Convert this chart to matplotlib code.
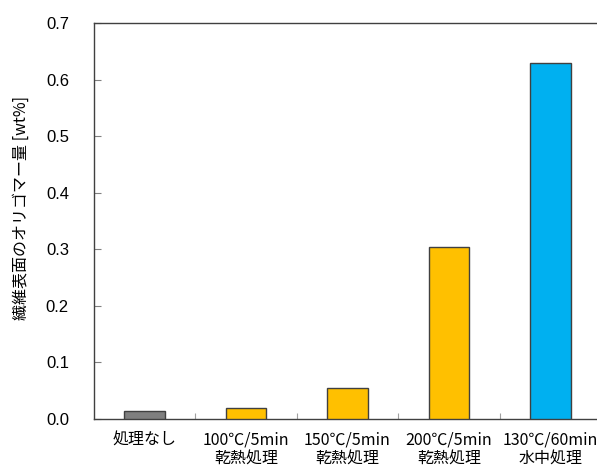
import matplotlib
matplotlib.use("Agg")
from matplotlib import pyplot as plt

# Data
categories = ["処理なし", "100℃/5min\n乾熱処理", "150℃/5min\n乾熱処理",
              "200℃/5min\n乾熱処理", "130℃/60min\n水中処理"]
values = [0.014, 0.019, 0.054, 0.304, 0.629]
colors = ["#7f7f7f", "#ffc000", "#ffc000", "#ffc000", "#00b0f0"]
yticks = [0.0, 0.1, 0.2, 0.3, 0.4, 0.5, 0.6, 0.7]

plt.rcParams["font.family"] = ["Liberation Sans", "Noto Sans CJK JP", "DejaVu Sans"]

fig = plt.figure(figsize=(5.97, 4.71), dpi=100)
# axes right edge runs slightly past the image border, as in the reference
ax = fig.add_axes([94 / 597, 52 / 471, 507 / 597, 396 / 471])

x = range(len(categories))
ax.bar(x, values, width=0.4, color=colors, edgecolor="#404040", linewidth=1.0, zorder=3)

ax.set_xlim(-0.5, len(categories) - 0.5)
ax.set_ylim(0, 0.7)
ax.set_yticks(yticks)
ax.set_yticklabels([f"{v:.1f}" for v in yticks], fontsize=12)
ax.tick_params(axis="y", direction="in", length=5, pad=18, color="#808080")

# category boundary ticks on the x axis
ax.set_xticks([i + 0.5 for i in range(len(categories) - 1)])
ax.set_xticklabels([])
ax.tick_params(axis="x", direction="in", length=4, color="#a0a0a0")
for i, lab in enumerate(categories):
    ax.text(i, -0.022, lab, ha="center", va="top", fontsize=11.5,
            family=["Noto Sans CJK JP"], linespacing=1.2,
            transform=ax.transData)

for s in ["left", "bottom", "top", "right"]:
    ax.spines[s].set_color("#404040")
    ax.spines[s].set_linewidth(1.0)

fig.text(21 / 597, 1 - 208 / 471, "繊維表面のオリゴマー量 [wt%]", rotation=90,
         ha="center", va="center", fontsize=11.5, family=["Noto Sans CJK JP"])

plt.savefig("out.png", dpi=100)
plt.close()
